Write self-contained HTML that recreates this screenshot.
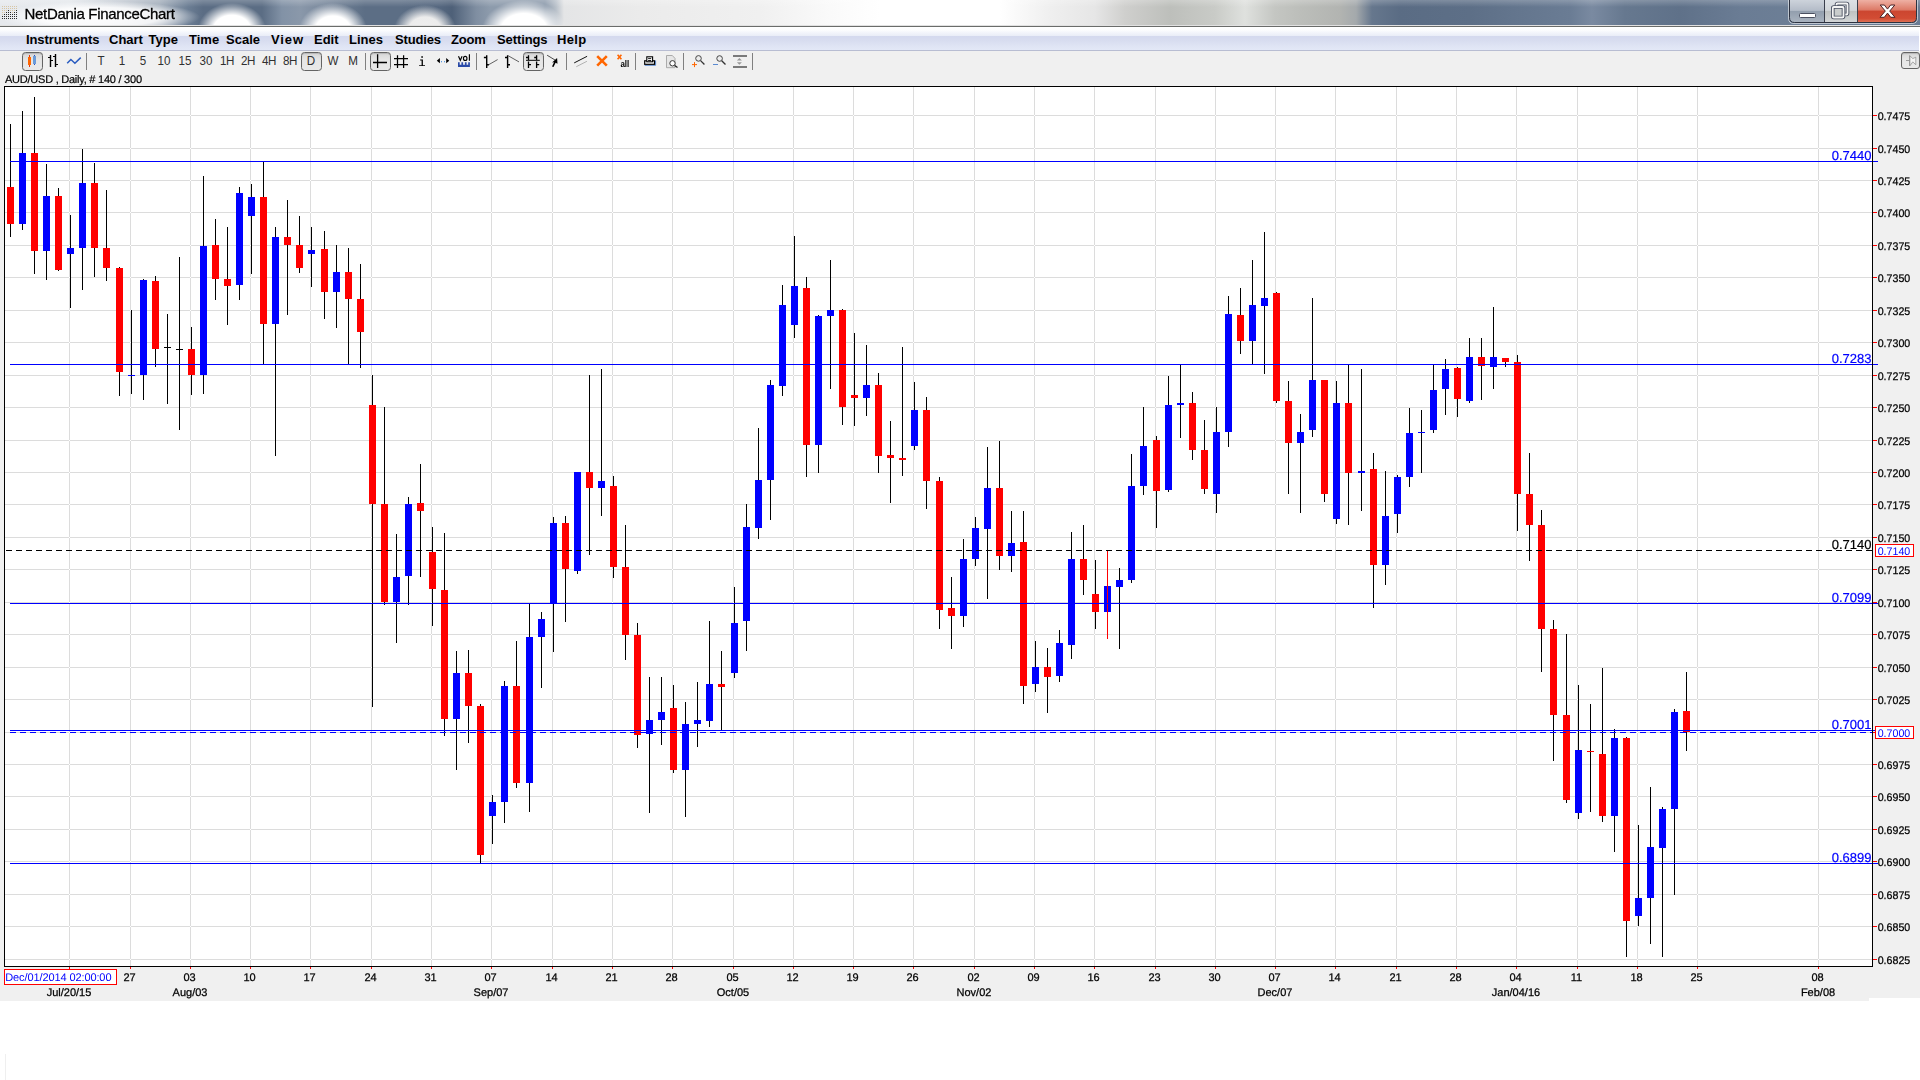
<!DOCTYPE html>
<html><head><meta charset="utf-8"><title>NetDania FinanceChart</title>
<style>
html,body{margin:0;padding:0;background:#fff;}
body{width:1920px;height:1080px;overflow:hidden;position:relative;font-family:"Liberation Sans",sans-serif;}
.abs{position:absolute;}
#title{left:0;top:0;width:1920px;height:26px;overflow:hidden;
background:
 linear-gradient(180deg,rgba(255,255,255,.22) 0,rgba(255,255,255,0) 7px),
 radial-gradient(ellipse 34px 27px at 232px 30px,#ffffff 0,#ffffff 55%,rgba(255,255,255,0) 100%),
 radial-gradient(ellipse 34px 27px at 333px 30px,#ffffff 0,#ffffff 52%,rgba(255,255,255,0) 100%),
 radial-gradient(ellipse 31px 25px at 425px 30px,#efefef 0,#ececec 52%,rgba(236,236,236,0) 100%),
 radial-gradient(ellipse 42px 30px at 524px 30px,#ffffff 0,#ffffff 55%,rgba(255,255,255,0) 100%),
 radial-gradient(ellipse 100px 16px at 100px 17px,rgba(255,255,255,.95) 0,rgba(255,255,255,.85) 60%,rgba(255,255,255,0) 100%),
 linear-gradient(90deg,#e6e9ed 0,#e4e8ec 70px,#c3cad3 120px,#a3aebb 160px,#6c7e94 188px,#5b6d84 203px,#5b6d84 262px,#8292a6 282px,#8a98aa 300px,#5c6e85 365px,#5c6e85 400px,#55677f 440px,#4e6078 452px,#7f8ea1 476px,#8d9bac 490px,#8d9bac 545px,#b9c1ca 556px,#e4e5e6 564px,#ebebeb 640px,#f0f0f0 760px,#fafafa 830px,#ffffff 880px,#ffffff 1000px,#efefef 1050px,#e6e6e6 1095px,#cfcfcd 1125px,#bdbfbb 1170px,#c9cbc7 1215px,#dfe1de 1245px,#c4c6c2 1275px,#bcbeba 1300px,#b2b4b1 1340px,#a4a9ac 1356px,#66778d 1372px,#5a6c84 1400px,#5d6f87 1470px,#64768e 1520px,#6a7c94 1570px,#7a8aa1 1592px,#66788f 1625px,#5f7189 1680px,#6a7c94 1740px,#6d7f96 1800px,#6a7c93 1920px);
}
#tline{left:0;top:25px;width:1920px;height:1px;background:#6a6c6a;border-top:1px solid rgba(255,255,255,.8);}
#ttext{left:25px;top:3px;font-size:14.5px;line-height:20px;color:#000;white-space:nowrap;letter-spacing:-0.05px}
#menu{left:0;top:27px;width:1919px;height:24px;background:linear-gradient(180deg,#ffffff 0,#fcfdfe 3px,#f2f4fb 6px,#e9edf7 9px,#d4d9ee 9px,#d8ddf0 14px,#dfe4f4 19px,#e3e8f7 23px,#b8bdd2 23px,#b8bdd2 24px);}
#menu span{position:absolute;top:5px;font-size:13px;font-weight:bold;line-height:16px;color:#000;white-space:nowrap;}
#main{left:0;top:51px;width:1920px;height:950px;background:#f0f0f0;}
#notch{left:1869px;top:998px;width:51px;height:4px;background:#fff;}
.chart{position:absolute;left:0;top:0;will-change:transform;}
.tb{position:absolute;top:53.400px;height:16px;line-height:16px;font-size:13.500px;color:#303030;text-align:center;width:24px;margin-left:-12px;white-space:nowrap;transform:scaleX(.86);transform-origin:50% 50%}
.sep{position:absolute;top:53px;width:1px;height:17px;background:#808080;}
.btn{position:absolute;top:52px;height:17px;width:19px;border:1px solid #646464;border-radius:3.5px;background:linear-gradient(180deg,#d6d6d6,#e6e6e6 40%,#e9e9e9);box-shadow:inset 0 1px 1px rgba(0,0,0,.15);}
</style></head><body>
<div id="title" class="abs"></div>
<div id="tline" class="abs"></div>
<svg class="chart" width="400" height="27" style="height:27px;width:400px"><text x="24.600" y="19" font-family="'Liberation Sans', sans-serif" font-size="15" fill="#000" stroke="#000" stroke-width="0.3" textLength="150.200" lengthAdjust="spacing">NetDania FinanceChart</text><g shape-rendering="crispEdges"><rect x="2" y="6" width="1" height="1" fill="#d8c6a4"/><rect x="4" y="6" width="1" height="1" fill="#d8c6a4"/><rect x="6" y="6" width="1" height="1" fill="#d8c6a4"/><rect x="8" y="6" width="1" height="1" fill="#d8c6a4"/><rect x="10" y="6" width="1" height="1" fill="#d8c6a4"/><rect x="12" y="6" width="1" height="1" fill="#d8c6a4"/><rect x="14" y="6" width="1" height="1" fill="#d8c6a4"/><rect x="16" y="6" width="1" height="1" fill="#d8c6a4"/><rect x="2" y="8" width="1" height="1" fill="#d8c6a4"/><rect x="4" y="8" width="1" height="1" fill="#d8c6a4"/><rect x="6" y="8" width="1" height="1" fill="#d8c6a4"/><rect x="8" y="8" width="1" height="1" fill="#d8c6a4"/><rect x="10" y="8" width="1" height="1" fill="#d8c6a4"/><rect x="12" y="8" width="1" height="1" fill="#d8c6a4"/><rect x="14" y="8" width="1" height="1" fill="#d8c6a4"/><rect x="16" y="8" width="1" height="1" fill="#d8c6a4"/><rect x="2" y="10" width="1" height="1" fill="#d8c6a4"/><rect x="4" y="10" width="1" height="1" fill="#d8c6a4"/><rect x="6" y="10" width="1" height="1" fill="#d8c6a4"/><rect x="8" y="10" width="1" height="1" fill="#2a2a2a"/><rect x="10" y="10" width="1" height="1" fill="#d8c6a4"/><rect x="12" y="10" width="1" height="1" fill="#d8c6a4"/><rect x="14" y="10" width="1" height="1" fill="#d8c6a4"/><rect x="16" y="10" width="1" height="1" fill="#2a2a2a"/><rect x="2" y="12" width="1" height="1" fill="#d8c6a4"/><rect x="4" y="12" width="1" height="1" fill="#d8c6a4"/><rect x="6" y="12" width="1" height="1" fill="#2a2a2a"/><rect x="8" y="12" width="1" height="1" fill="#2a2a2a"/><rect x="10" y="12" width="1" height="1" fill="#2a2a2a"/><rect x="12" y="12" width="1" height="1" fill="#d8c6a4"/><rect x="14" y="12" width="1" height="1" fill="#2a2a2a"/><rect x="16" y="12" width="1" height="1" fill="#2a2a2a"/><rect x="2" y="14" width="1" height="1" fill="#d8c6a4"/><rect x="4" y="14" width="1" height="1" fill="#2a2a2a"/><rect x="6" y="14" width="1" height="1" fill="#2a2a2a"/><rect x="8" y="14" width="1" height="1" fill="#2a2a2a"/><rect x="10" y="14" width="1" height="1" fill="#2a2a2a"/><rect x="12" y="14" width="1" height="1" fill="#2a2a2a"/><rect x="14" y="14" width="1" height="1" fill="#2a2a2a"/><rect x="16" y="14" width="1" height="1" fill="#2a2a2a"/><rect x="2" y="16" width="1" height="1" fill="#2a2a2a"/><rect x="4" y="16" width="1" height="1" fill="#2a2a2a"/><rect x="6" y="16" width="1" height="1" fill="#2a2a2a"/><rect x="8" y="16" width="1" height="1" fill="#2a2a2a"/><rect x="10" y="16" width="1" height="1" fill="#2a2a2a"/><rect x="12" y="16" width="1" height="1" fill="#2a2a2a"/><rect x="14" y="16" width="1" height="1" fill="#2a2a2a"/><rect x="16" y="16" width="1" height="1" fill="#2a2a2a"/><rect x="2" y="18" width="1" height="1" fill="#2a2a2a"/><rect x="4" y="18" width="1" height="1" fill="#2a2a2a"/><rect x="6" y="18" width="1" height="1" fill="#2a2a2a"/><rect x="8" y="18" width="1" height="1" fill="#2a2a2a"/><rect x="10" y="18" width="1" height="1" fill="#2a2a2a"/><rect x="12" y="18" width="1" height="1" fill="#2a2a2a"/><rect x="14" y="18" width="1" height="1" fill="#2a2a2a"/><rect x="16" y="18" width="1" height="1" fill="#2a2a2a"/></g></svg>
<div id="menu" class="abs">
<span style="left:26px;letter-spacing:-0.1px">Instruments</span><span style="left:109px;word-spacing:2px">Chart Type</span><span style="left:189px;word-spacing:3.4px">Time Scale</span><span style="left:271px;letter-spacing:0.9px">View</span><span style="left:314px">Edit</span><span style="left:349px">Lines</span><span style="left:395px;letter-spacing:-0.15px">Studies</span><span style="left:451px;letter-spacing:-0.2px">Zoom</span><span style="left:497px;letter-spacing:-0.1px">Settings</span><span style="left:557px;letter-spacing:0.3px">Help</span>
</div>
<div id="main" class="abs"></div>
<div id="notch" class="abs"></div><div class="abs" style="left:5px;top:1054px;width:1px;height:26px;background:#efefef"></div>
<div class="btn" style="left:22px"></div><div class="btn" style="left:301px"></div><div class="btn" style="left:370px"></div><div class="btn" style="left:523px"></div><div class="btn" style="left:1901px;top:52px;width:17px;height:15px;border-radius:3px"></div><div class="sep" style="left:86px"></div><div class="sep" style="left:365px"></div><div class="sep" style="left:476px"></div><div class="sep" style="left:566px"></div><div class="sep" style="left:635px"></div><div class="sep" style="left:683px"></div><div class="sep" style="left:752px"></div><div class="tb" style="left:100.6px">T</div><div class="tb" style="left:121.9px">1</div><div class="tb" style="left:142.9px">5</div><div class="tb" style="left:163.75px">10</div><div class="tb" style="left:185px">15</div><div class="tb" style="left:206px">30</div><div class="tb" style="left:226.5px;letter-spacing:-0.6px">1H</div><div class="tb" style="left:248px;letter-spacing:-0.6px">2H</div><div class="tb" style="left:269px;letter-spacing:-0.6px">4H</div><div class="tb" style="left:290px;letter-spacing:-0.6px">8H</div><div class="tb" style="left:311.3px">D</div><div class="tb" style="left:332.5px">W</div><div class="tb" style="left:353.4px">M</div><svg class="chart" width="1920" height="80" viewBox="0 0 1920 80" style="height:80px"><g shape-rendering="crispEdges"><rect x="29" y="55" width="1" height="12" fill="#e8380c"/><rect x="28" y="57" width="3" height="8" fill="#ff6600"/><rect x="34" y="55" width="1" height="10" fill="#2a50c0"/><rect x="33" y="56" width="3" height="8" fill="#6b9bd8"/><path d="M50 55h1v12h-1z M48 57h2v1h-2z M51 60h2v1h-2z M55 54h1v13h-1z M53 56h2v1h-2z M56 64h2v1h-2z" fill="#000"/></g><path d="M50.5 55v12 M55.5 54v13" stroke="#000" stroke-width="1.4" fill="none"/><polyline points="67.2,63.3 70.9,59.5 74.9,63.2 80.7,57.6" fill="none" stroke="#2a5cc0" stroke-width="1.5"/><path d="M377.6 54.2v13.7 M373 62.5h14" stroke="#000" stroke-width="1.3" fill="none"/><path d="M397.5 55.2v12.7 M403.6 55.2v12.7 M394 58.6h14 M394 64.6h14" stroke="#000" stroke-width="1.25" fill="none"/><path d="M421.3 56.2h1.6v1.5h-1.6z M420.1 59.4h2.8v5.8h2.1v0.9h-5.9v-0.9h2.5v-4.8h-1.5z" fill="#000"/><path d="M436.8 60.7l3.1 -2.6v5.2z M449.3 60.7l-3.1 -2.6v5.2z" fill="#000"/><rect x="441" y="61" width="1" height="1.3" fill="#5a9ae0"/><rect x="444" y="61" width="1" height="1.3" fill="#5a9ae0"/><path d="M458.5 56.3L460.3 60.3L462.1 56.3 M469.4 54.2V60.7" stroke="#000" stroke-width="1.15" fill="none"/><ellipse cx="465.2" cy="58.4" rx="1.75" ry="2.05" stroke="#000" stroke-width="1.15" fill="none"/><path d="M458 62.2h1.7v2.6h1.7v-2.6h1.7v2.6h1.8v-2.6h1.7v2.6h1.6v-2.6h1.7v4.8h-11.9z" fill="#2a4aa8"/><path d="M486.7 55.2v12.7 M483.9 57.5h2.8 M486.7 64.7h2.2" stroke="#000" stroke-width="1.4" fill="none"/><path d="M488.9 64.6L497.6 59.6" stroke="#222" stroke-width="0.7" fill="none"/><path d="M507.6 55.2v12.7 M505 57.5h2.6 M507.6 64.7h2.4" stroke="#000" stroke-width="1.4" fill="none"/><path d="M508.3 55.8L519 61.9" stroke="#222" stroke-width="0.7" fill="none"/><path d="M528.5 55.2v4.8 M528.5 61.6v6.3 M536.6 55.2v4.8 M536.6 61.6v6.3 M526 57.5h2.5 M534.2 57.5h2.4 M528.5 64.7h2.5 M536.6 64.7h2.6" stroke="#000" stroke-width="1.3" fill="none"/><path d="M526 60.3h13.8" stroke="#000" stroke-width="1" fill="none"/><path d="M547.1 55.2L555 60" stroke="#222" stroke-width="0.8" fill="none"/><path d="M557.1 57.9L557.5 63.7L555.6 62.8L553.5 67.1L552 66.6L554 62.2L552.1 62.6z" fill="#000"/><path d="M574.2 62.9L587.1 56.3" stroke="#111" stroke-width="1" fill="none"/><path d="M576.3 66.7L586.9 61.3" stroke="#aaa" stroke-width="0.9" fill="none"/><path d="M597.2 56.1L606.8 65.6 M606.8 56.1L597.2 65.6" stroke="#ff6600" stroke-width="2.6" fill="none"/><path d="M617.6 54.7L621.4 59.3 M621.4 54.7L617.6 59.3" stroke="#ff6600" stroke-width="1.6" fill="none"/><text x="620.4" y="66.9" font-family="'Liberation Sans', sans-serif" font-size="8.5" font-weight="bold" fill="#000" textLength="8.8" lengthAdjust="spacingAndGlyphs">all</text><path d="M644.7 65.3h10.9v-4.8" stroke="#5a8ad0" stroke-width="1" fill="none"/><rect x="644.7" y="60.8" width="9.8" height="3.5" fill="#fff" stroke="#000" stroke-width="1.2"/><rect x="646.8" y="56.8" width="5.8" height="5" fill="#fff" stroke="#000" stroke-width="1.1"/><path d="M648.1 58.6h3.1 M648.1 60.5h3.1" stroke="#000" stroke-width="0.9"/><path d="M666.5 55.5h5.8l2.7 2.9v9.3h-8.5z" fill="#e6e6e6" stroke="#9a9a9a" stroke-width="0.8"/><circle cx="672.5" cy="63.3" r="2.7" fill="#fff" stroke="#333" stroke-width="1"/><path d="M674.7 65.5L677.5 67.6" stroke="#222" stroke-width="1.3"/><circle cx="698.5" cy="58.4" r="2.8" fill="#ececec" stroke="#444" stroke-width="1"/><path d="M700.6 60.6L704.4 64.5" stroke="#333" stroke-width="1.3"/><path d="M692 64.6h5 M694.5 62.1v5" stroke="#ff6600" stroke-width="1"/><circle cx="719.6" cy="58.5" r="2.8" fill="#ececec" stroke="#444" stroke-width="1"/><path d="M721.7 60.7L725.5 64.5" stroke="#333" stroke-width="1.3"/><path d="M713 64.5h5" stroke="#5a8ad0" stroke-width="1"/><rect x="733" y="55" width="14" height="2" fill="#7a7a7a"/><rect x="733" y="66" width="14" height="2" fill="#7a7a7a"/><path d="M739.4 58.1l2.5 2.5h-5z M739.4 64.8l2.5 -2.5h-5z" fill="#999"/><path d="M1906 60.5h3.3 M1909.5 55.4v10.4" stroke="#8a8a8a" stroke-width="0.8" fill="none"/><path d="M1909.9 55.8L1912.8 58.6L1915.8 57.2V64.7L1912.8 61.9L1909.9 65.8z" fill="#f4f4f4" stroke="#8a8a8a" stroke-width="0.7"/></svg>
<svg class="chart" width="1920" height="1080" viewBox="0 0 1920 1080" shape-rendering="crispEdges" text-rendering="geometricPrecision"><rect x="5" y="87" width="1867" height="879" fill="#ffffff"/><path d="M69 87v879h1v-879zM130 87v879h1v-879zM190 87v879h1v-879zM250 87v879h1v-879zM310 87v879h1v-879zM371 87v879h1v-879zM431 87v879h1v-879zM491 87v879h1v-879zM552 87v879h1v-879zM612 87v879h1v-879zM672 87v879h1v-879zM733 87v879h1v-879zM793 87v879h1v-879zM853 87v879h1v-879zM913 87v879h1v-879zM974 87v879h1v-879zM1034 87v879h1v-879zM1094 87v879h1v-879zM1155 87v879h1v-879zM1215 87v879h1v-879zM1275 87v879h1v-879zM1335 87v879h1v-879zM1396 87v879h1v-879zM1456 87v879h1v-879zM1516 87v879h1v-879zM1577 87v879h1v-879zM1637 87v879h1v-879zM1697 87v879h1v-879zM1818 87v879h1v-879zM5 115h1867v1h-1867zM5 148h1867v1h-1867zM5 180h1867v1h-1867zM5 212h1867v1h-1867zM5 245h1867v1h-1867zM5 277h1867v1h-1867zM5 310h1867v1h-1867zM5 342h1867v1h-1867zM5 375h1867v1h-1867zM5 407h1867v1h-1867zM5 440h1867v1h-1867zM5 472h1867v1h-1867zM5 504h1867v1h-1867zM5 537h1867v1h-1867zM5 569h1867v1h-1867zM5 602h1867v1h-1867zM5 634h1867v1h-1867zM5 667h1867v1h-1867zM5 699h1867v1h-1867zM5 732h1867v1h-1867zM5 764h1867v1h-1867zM5 796h1867v1h-1867zM5 829h1867v1h-1867zM5 861h1867v1h-1867zM5 894h1867v1h-1867zM5 926h1867v1h-1867zM5 959h1867v1h-1867z" fill="#dcdcdc"/><path d="M10 124h1v113h-1zM22 111h1v119h-1zM34 97h1v177h-1zM46 164h1v116h-1zM58 188h1v83h-1zM70 215h1v93h-1zM82 149h1v141h-1zM94 163h1v114h-1zM106 190h1v91h-1zM119 267h1v129h-1zM131 310h1v84h-1zM143 279h1v121h-1zM155 276h1v91h-1zM167 314h1v90h-1zM179 257h1v173h-1zM191 327h1v68h-1zM203 176h1v218h-1zM215 219h1v81h-1zM227 227h1v98h-1zM239 187h1v113h-1zM251 184h1v90h-1zM263 161h1v204h-1zM275 227h1v229h-1zM287 200h1v115h-1zM299 216h1v57h-1zM311 227h1v60h-1zM324 231h1v88h-1zM336 245h1v83h-1zM348 248h1v117h-1zM360 264h1v104h-1zM372 375h1v332h-1zM384 407h1v198h-1zM396 534h1v109h-1zM408 497h1v108h-1zM420 464h1v113h-1zM432 527h1v99h-1zM444 533h1v203h-1zM456 651h1v119h-1zM468 650h1v93h-1zM480 704h1v159h-1zM492 795h1v49h-1zM504 681h1v142h-1zM516 641h1v147h-1zM529 604h1v208h-1zM541 612h1v76h-1zM553 517h1v135h-1zM565 516h1v106h-1zM577 472h1v102h-1zM589 375h1v180h-1zM601 369h1v147h-1zM613 476h1v102h-1zM625 525h1v135h-1zM637 623h1v125h-1zM649 677h1v136h-1zM661 677h1v68h-1zM673 685h1v88h-1zM685 702h1v115h-1zM697 682h1v65h-1zM709 621h1v106h-1zM721 651h1v79h-1zM734 587h1v91h-1zM746 504h1v147h-1zM758 428h1v111h-1zM770 380h1v140h-1zM782 285h1v111h-1zM794 236h1v102h-1zM806 277h1v200h-1zM818 315h1v158h-1zM830 260h1v129h-1zM842 309h1v116h-1zM854 333h1v93h-1zM866 345h1v71h-1zM878 373h1v100h-1zM890 421h1v82h-1zM902 347h1v129h-1zM914 382h1v68h-1zM926 397h1v112h-1zM939 477h1v152h-1zM951 577h1v72h-1zM963 539h1v88h-1zM975 517h1v49h-1zM987 447h1v152h-1zM999 441h1v129h-1zM1011 511h1v61h-1zM1023 511h1v193h-1zM1035 641h1v51h-1zM1047 648h1v65h-1zM1059 630h1v52h-1zM1071 532h1v127h-1zM1083 525h1v70h-1zM1095 560h1v69h-1zM1119 568h1v81h-1zM1131 454h1v129h-1zM1143 407h1v88h-1zM1156 436h1v92h-1zM1168 376h1v116h-1zM1180 364h1v74h-1zM1192 392h1v68h-1zM1204 420h1v74h-1zM1216 407h1v106h-1zM1228 296h1v151h-1zM1240 288h1v66h-1zM1252 260h1v105h-1zM1264 232h1v142h-1zM1276 292h1v111h-1zM1288 381h1v113h-1zM1300 414h1v99h-1zM1312 298h1v139h-1zM1324 380h1v122h-1zM1336 381h1v143h-1zM1348 364h1v161h-1zM1361 369h1v142h-1zM1373 453h1v155h-1zM1385 471h1v114h-1zM1397 475h1v58h-1zM1409 408h1v79h-1zM1421 410h1v63h-1zM1433 364h1v69h-1zM1445 359h1v56h-1zM1457 367h1v50h-1zM1469 338h1v65h-1zM1481 338h1v62h-1zM1493 307h1v82h-1zM1505 358h1v9h-1zM1517 355h1v176h-1zM1529 453h1v108h-1zM1541 510h1v162h-1zM1553 620h1v141h-1zM1566 634h1v169h-1zM1578 685h1v134h-1zM1590 704h1v108h-1zM1602 668h1v154h-1zM1614 729h1v123h-1zM1626 737h1v220h-1zM1638 825h1v101h-1zM1650 787h1v157h-1zM1662 807h1v150h-1zM1674 709h1v186h-1zM1686 672h1v79h-1z" fill="#000000"/><path d="M7 187h7v37h-7zM31 153h7v98h-7zM55 196h7v74h-7zM91 183h7v65h-7zM103 248h7v20h-7zM116 268h7v104h-7zM152 281h7v68h-7zM188 349h7v26h-7zM212 245h7v34h-7zM224 279h7v7h-7zM260 197h7v127h-7zM284 237h7v8h-7zM296 245h7v23h-7zM321 249h7v43h-7zM345 272h7v27h-7zM357 299h7v33h-7zM369 405h7v99h-7zM381 504h7v98h-7zM417 503h7v8h-7zM429 552h7v37h-7zM441 590h7v129h-7zM465 673h7v33h-7zM477 706h7v149h-7zM513 686h7v97h-7zM562 523h7v46h-7zM586 472h7v16h-7zM610 486h7v81h-7zM622 567h7v68h-7zM634 635h7v100h-7zM670 708h7v62h-7zM718 684h7v3h-7zM803 288h7v157h-7zM839 310h7v97h-7zM851 395h7v3h-7zM875 385h7v71h-7zM887 455h7v3h-7zM899 458h7v2h-7zM923 410h7v71h-7zM936 481h7v129h-7zM948 608h7v8h-7zM996 488h7v68h-7zM1020 542h7v144h-7zM1044 667h7v10h-7zM1080 559h7v21h-7zM1092 594h7v18h-7zM1153 440h7v51h-7zM1189 403h7v47h-7zM1201 450h7v39h-7zM1237 315h7v26h-7zM1273 293h7v108h-7zM1285 401h7v42h-7zM1321 380h7v114h-7zM1345 403h7v70h-7zM1370 469h7v96h-7zM1454 368h7v31h-7zM1478 357h7v9h-7zM1502 358h7v4h-7zM1514 362h7v132h-7zM1526 494h7v31h-7zM1538 525h7v104h-7zM1550 629h7v86h-7zM1563 715h7v85h-7zM1587 751h7v1h-7zM1599 754h7v62h-7zM1623 738h7v183h-7zM1683 711h7v21h-7z" fill="#ff0000"/><path d="M19 153h7v71h-7zM43 196h7v55h-7zM67 248h7v6h-7zM79 183h7v65h-7zM128 375h7v1h-7zM140 280h7v95h-7zM200 246h7v129h-7zM236 193h7v92h-7zM248 197h7v19h-7zM272 237h7v87h-7zM308 250h7v4h-7zM333 272h7v20h-7zM393 577h7v25h-7zM405 504h7v72h-7zM453 673h7v46h-7zM489 802h7v14h-7zM501 686h7v116h-7zM526 637h7v146h-7zM538 619h7v18h-7zM550 523h7v81h-7zM574 472h7v99h-7zM598 481h7v7h-7zM646 720h7v14h-7zM658 712h7v8h-7zM682 724h7v46h-7zM694 720h7v4h-7zM706 684h7v37h-7zM731 623h7v50h-7zM743 527h7v94h-7zM755 480h7v48h-7zM767 385h7v95h-7zM779 305h7v81h-7zM791 286h7v39h-7zM815 316h7v129h-7zM827 310h7v6h-7zM863 385h7v13h-7zM911 410h7v36h-7zM960 559h7v57h-7zM972 528h7v31h-7zM984 488h7v41h-7zM1008 543h7v13h-7zM1032 667h7v17h-7zM1056 643h7v33h-7zM1068 559h7v86h-7zM1104 586h7v26h-7zM1116 580h7v7h-7zM1128 486h7v94h-7zM1140 446h7v40h-7zM1165 405h7v85h-7zM1177 403h7v2h-7zM1213 432h7v62h-7zM1225 314h7v118h-7zM1249 305h7v36h-7zM1261 298h7v8h-7zM1297 432h7v11h-7zM1309 380h7v50h-7zM1333 403h7v116h-7zM1358 471h7v2h-7zM1382 516h7v49h-7zM1394 477h7v37h-7zM1406 433h7v44h-7zM1418 432h7v1h-7zM1430 390h7v40h-7zM1442 369h7v20h-7zM1466 357h7v44h-7zM1490 357h7v10h-7zM1575 750h7v63h-7zM1611 738h7v78h-7zM1635 898h7v18h-7zM1647 847h7v51h-7zM1659 809h7v39h-7zM1671 712h7v97h-7z" fill="#0000ff"/><path d="M164 347h7v1h-7zM176 349h7v1h-7z" fill="#000000"/><path d="M1107 551h1v88h-1z" fill="#ff0000"/><rect x="10" y="161" width="1868" height="1" fill="#0000ff"/><rect x="10" y="364" width="1868" height="1" fill="#0000ff"/><rect x="10" y="603" width="1868" height="1" fill="#0000ff"/><rect x="10" y="730" width="1868" height="1" fill="#0000ff"/><rect x="10" y="863" width="1868" height="1" fill="#0000ff"/><line x1="6" y1="550.5" x2="1878" y2="550.5" stroke="#000" stroke-width="1" stroke-dasharray="6 4"/><line x1="10" y1="732.5" x2="1878" y2="732.5" stroke="#0000ff" stroke-width="1" stroke-dasharray="6 4"/><path d="M4 86h1869v881h-1869z M5 87v879h1867v-879z" fill="#000" fill-rule="evenodd"/><path d="M1873 115h4v1h-4zM1873 148h4v1h-4zM1873 180h4v1h-4zM1873 212h4v1h-4zM1873 245h4v1h-4zM1873 277h4v1h-4zM1873 310h4v1h-4zM1873 342h4v1h-4zM1873 375h4v1h-4zM1873 407h4v1h-4zM1873 440h4v1h-4zM1873 472h4v1h-4zM1873 504h4v1h-4zM1873 537h4v1h-4zM1873 569h4v1h-4zM1873 602h4v1h-4zM1873 634h4v1h-4zM1873 667h4v1h-4zM1873 699h4v1h-4zM1873 732h4v1h-4zM1873 764h4v1h-4zM1873 796h4v1h-4zM1873 829h4v1h-4zM1873 861h4v1h-4zM1873 894h4v1h-4zM1873 926h4v1h-4zM1873 959h4v1h-4zM69 967h1v2h-1zM130 967h1v2h-1zM190 967h1v2h-1zM250 967h1v2h-1zM310 967h1v2h-1zM371 967h1v2h-1zM431 967h1v2h-1zM491 967h1v2h-1zM552 967h1v2h-1zM612 967h1v2h-1zM672 967h1v2h-1zM733 967h1v2h-1zM793 967h1v2h-1zM853 967h1v2h-1zM913 967h1v2h-1zM974 967h1v2h-1zM1034 967h1v2h-1zM1094 967h1v2h-1zM1155 967h1v2h-1zM1215 967h1v2h-1zM1275 967h1v2h-1zM1335 967h1v2h-1zM1396 967h1v2h-1zM1456 967h1v2h-1zM1516 967h1v2h-1zM1577 967h1v2h-1zM1637 967h1v2h-1zM1697 967h1v2h-1zM1818 967h1v2h-1z" fill="#ff0000"/><g font-family="'Liberation Sans', sans-serif" font-size="11" fill="#000" stroke="#000" stroke-width="0.25"><text x="1877.7" y="120" textLength="32.6" lengthAdjust="spacingAndGlyphs">0.7475</text><text x="1877.7" y="153" textLength="32.6" lengthAdjust="spacingAndGlyphs">0.7450</text><text x="1877.7" y="185" textLength="32.6" lengthAdjust="spacingAndGlyphs">0.7425</text><text x="1877.7" y="217" textLength="32.6" lengthAdjust="spacingAndGlyphs">0.7400</text><text x="1877.7" y="250" textLength="32.6" lengthAdjust="spacingAndGlyphs">0.7375</text><text x="1877.7" y="282" textLength="32.6" lengthAdjust="spacingAndGlyphs">0.7350</text><text x="1877.7" y="315" textLength="32.6" lengthAdjust="spacingAndGlyphs">0.7325</text><text x="1877.7" y="347" textLength="32.6" lengthAdjust="spacingAndGlyphs">0.7300</text><text x="1877.7" y="380" textLength="32.6" lengthAdjust="spacingAndGlyphs">0.7275</text><text x="1877.7" y="412" textLength="32.6" lengthAdjust="spacingAndGlyphs">0.7250</text><text x="1877.7" y="445" textLength="32.6" lengthAdjust="spacingAndGlyphs">0.7225</text><text x="1877.7" y="477" textLength="32.6" lengthAdjust="spacingAndGlyphs">0.7200</text><text x="1877.7" y="509" textLength="32.6" lengthAdjust="spacingAndGlyphs">0.7175</text><text x="1877.7" y="542" textLength="32.6" lengthAdjust="spacingAndGlyphs">0.7150</text><text x="1877.7" y="574" textLength="32.6" lengthAdjust="spacingAndGlyphs">0.7125</text><text x="1877.7" y="607" textLength="32.6" lengthAdjust="spacingAndGlyphs">0.7100</text><text x="1877.7" y="639" textLength="32.6" lengthAdjust="spacingAndGlyphs">0.7075</text><text x="1877.7" y="672" textLength="32.6" lengthAdjust="spacingAndGlyphs">0.7050</text><text x="1877.7" y="704" textLength="32.6" lengthAdjust="spacingAndGlyphs">0.7025</text><text x="1877.7" y="737" textLength="32.6" lengthAdjust="spacingAndGlyphs">0.7000</text><text x="1877.7" y="769" textLength="32.6" lengthAdjust="spacingAndGlyphs">0.6975</text><text x="1877.7" y="801" textLength="32.6" lengthAdjust="spacingAndGlyphs">0.6950</text><text x="1877.7" y="834" textLength="32.6" lengthAdjust="spacingAndGlyphs">0.6925</text><text x="1877.7" y="866" textLength="32.6" lengthAdjust="spacingAndGlyphs">0.6900</text><text x="1877.7" y="899" textLength="32.6" lengthAdjust="spacingAndGlyphs">0.6875</text><text x="1877.7" y="931" textLength="32.6" lengthAdjust="spacingAndGlyphs">0.6850</text><text x="1877.7" y="964" textLength="32.6" lengthAdjust="spacingAndGlyphs">0.6825</text></g><g font-family="'Liberation Sans', sans-serif" font-size="13" fill="#0000ff" stroke="#0000ff" stroke-width="0.2" text-anchor="end"><text x="1871.5" y="160">0.7440</text><text x="1871.5" y="363">0.7283</text><text x="1871.5" y="602">0.7099</text><text x="1871.5" y="729">0.7001</text><text x="1871.5" y="862">0.6899</text></g><g font-family="'Liberation Sans', sans-serif" font-size="13" fill="#000" stroke="#000" stroke-width="0.2" text-anchor="end"><text x="1871.5" y="549">0.7140</text></g><rect x="1875.5" y="544.5" width="38" height="12" fill="#fff" stroke="#ff0000" stroke-width="1"/><text x="1877.7" y="555" font-family="'Liberation Sans', sans-serif" font-size="11" fill="#0000ff" textLength="32.6" lengthAdjust="spacingAndGlyphs">0.7140</text><rect x="1875.5" y="726.5" width="38" height="12" fill="#fff" stroke="#ff0000" stroke-width="1"/><text x="1877.7" y="737" font-family="'Liberation Sans', sans-serif" font-size="11" fill="#0000ff" textLength="32.6" lengthAdjust="spacingAndGlyphs">0.7000</text><g font-family="'Liberation Sans', sans-serif" font-size="11" fill="#000" stroke="#000" stroke-width="0.25" text-anchor="middle"><text x="129.5" y="981">27</text><text x="189.5" y="981">03</text><text x="249.5" y="981">10</text><text x="309.5" y="981">17</text><text x="370.5" y="981">24</text><text x="430.5" y="981">31</text><text x="490.5" y="981">07</text><text x="551.5" y="981">14</text><text x="611.5" y="981">21</text><text x="671.5" y="981">28</text><text x="732.5" y="981">05</text><text x="792.5" y="981">12</text><text x="852.5" y="981">19</text><text x="912.5" y="981">26</text><text x="973.5" y="981">02</text><text x="1033.5" y="981">09</text><text x="1093.5" y="981">16</text><text x="1154.5" y="981">23</text><text x="1214.5" y="981">30</text><text x="1274.5" y="981">07</text><text x="1334.5" y="981">14</text><text x="1395.5" y="981">21</text><text x="1455.5" y="981">28</text><text x="1515.5" y="981">04</text><text x="1576.5" y="981">11</text><text x="1636.5" y="981">18</text><text x="1696.5" y="981">25</text><text x="1817.5" y="981">08</text><text x="69" y="996">Jul/20/15</text><text x="190" y="996">Aug/03</text><text x="491" y="996">Sep/07</text><text x="733" y="996">Oct/05</text><text x="974" y="996">Nov/02</text><text x="1275" y="996">Dec/07</text><text x="1516" y="996">Jan/04/16</text><text x="1818" y="996">Feb/08</text></g><rect x="4.5" y="969.5" width="112" height="15" fill="#fff" stroke="#ff0000" stroke-width="1"/><text x="5.2" y="981" font-family="'Liberation Sans', sans-serif" font-size="11" fill="#0000ff" textLength="106.3" lengthAdjust="spacing">Dec/01/2014 02:00:00</text><text x="5" y="83" font-family="'Liberation Sans', sans-serif" font-size="11" fill="#000" stroke="#000" stroke-width="0.2" textLength="137" lengthAdjust="spacing">AUD/USD , Daily, # 140 / 300</text></svg>
<svg class="chart" width="1920" height="27" viewBox="0 0 1920 27" style="height:27px">
<defs>
<linearGradient id="gmin" x1="0" y1="0" x2="0" y2="1"><stop offset="0" stop-color="#cdd3db"/><stop offset="0.45" stop-color="#b4bcc8"/><stop offset="0.5" stop-color="#939fae"/><stop offset="1" stop-color="#aab4c0"/></linearGradient>
<linearGradient id="gmax" x1="0" y1="0" x2="0" y2="1"><stop offset="0" stop-color="#dde1e6"/><stop offset="0.45" stop-color="#d2d6da"/><stop offset="0.5" stop-color="#bfc2c2"/><stop offset="1" stop-color="#d4d7d8"/></linearGradient>
<linearGradient id="gcls" x1="0" y1="0" x2="0" y2="1"><stop offset="0" stop-color="#eeb0a4"/><stop offset="0.42" stop-color="#dd7b68"/><stop offset="0.5" stop-color="#cc4630"/><stop offset="0.8" stop-color="#d24c34"/><stop offset="1" stop-color="#e07a5c"/></linearGradient>
<clipPath id="cc"><path d="M1789.5 -2v19.5q0 5 5 5h117q5 0 5 -5v-19.5z"/></clipPath>
</defs>
<path d="M1788.5 0v18q0 5.5 5.5 5.5h118q5.500 0 5.500 -5.500v-18" fill="none" stroke="rgba(255,255,255,.55)" stroke-width="1"/>
<g clip-path="url(#cc)">
<rect x="1789" y="0" width="36" height="23" fill="url(#gmin)"/>
<rect x="1825" y="0" width="32" height="23" fill="url(#gmax)"/>
<rect x="1857" y="0" width="60" height="23" fill="url(#gcls)"/>
</g>
<path d="M1789.5 -2v19.5q0 5 5 5h117q5 0 5 -5v-19.500" fill="none" stroke="#2c3240" stroke-width="1"/>
<path d="M1824.500 0v22 M1857.500 0v22" stroke="#3a3f4c" stroke-width="1"/>
<rect x="1799.500" y="13.500" width="16" height="4" rx="1" fill="#fff" stroke="#4a5060" stroke-width="1"/>
<g fill="none" stroke-linejoin="round">
<rect x="1836.500" y="3.500" width="11" height="11" rx="1" stroke="#4a5060" stroke-width="3.600"/>
<rect x="1836.500" y="3.500" width="11" height="11" rx="1" stroke="#f4f4f4" stroke-width="1.800"/>
<rect x="1832.800" y="7" width="10.700" height="10.500" rx="1" fill="#c9cccc" stroke="#4a5060" stroke-width="3.600"/>
<rect x="1832.800" y="7" width="10.700" height="10.500" rx="1" stroke="#f4f4f4" stroke-width="1.800"/>
</g>
<path d="M1880.200 5h4.200l3.100 4.100l3.100 -4.100h4.200l-5.100 6.100l5.300 6.200h-4.300l-3.200 -4.200l-3.200 4.200h-4.300l5.300 -6.200z" fill="#ffffff" stroke="#4a2226" stroke-width="1" stroke-linejoin="round"/>
</svg>
</body></html>
